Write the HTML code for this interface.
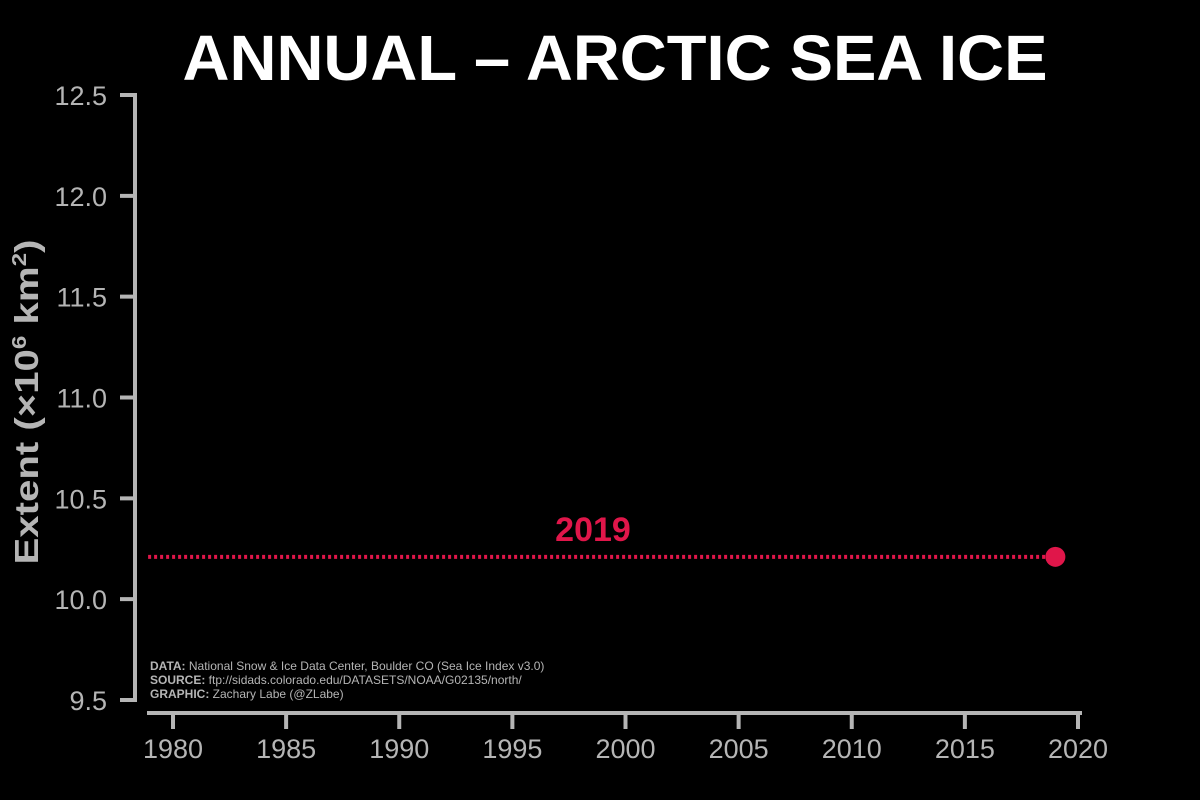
<!DOCTYPE html>
<html><head><meta charset="utf-8"><style>
html,body{margin:0;padding:0;background:#000;}
svg{display:block;font-family:"Liberation Sans",sans-serif;}
</style></head><body>
<svg id="chart" width="1200" height="800" viewBox="0 0 1200 800">
<rect width="1200" height="800" fill="#000"/>
<text x="615" y="80" fill="#fff" font-size="64" font-weight="bold" text-anchor="middle" textLength="865" lengthAdjust="spacingAndGlyphs">ANNUAL – ARCTIC SEA ICE</text>
<text transform="translate(38,402) rotate(-90)" fill="#b5b5b5" font-size="33" font-weight="bold" text-anchor="middle" textLength="325" lengthAdjust="spacingAndGlyphs">Extent (×10<tspan dy="-12" font-size="20">6</tspan><tspan dy="12"> km</tspan><tspan dy="-12" font-size="20">2</tspan><tspan dy="12">)</tspan></text>
<g id="axes"></g>
<g id="series"></g>
<g fill="#b5b5b5" font-size="12">
<text x="150" y="670"><tspan font-weight="bold">DATA:</tspan> National Snow &amp; Ice Data Center, Boulder CO (Sea Ice Index v3.0)</text>
<text x="150" y="684"><tspan font-weight="bold">SOURCE:</tspan> ftp://sidads.colorado.edu/DATASETS/NOAA/G02135/north/</text>
<text x="150" y="698"><tspan font-weight="bold">GRAPHIC:</tspan> Zachary Labe (@ZLabe)</text>
</g>
</svg>
<script>
const yTicks = [9.5, 10.0, 10.5, 11.0, 11.5, 12.0, 12.5];
const xTicks = [1980, 1985, 1990, 1995, 2000, 2005, 2010, 2015, 2020];
const years = [2019];
const extent = [10.21];
const lineStartYear = 1978.9;

const NS = "http://www.w3.org/2000/svg";
const y = v => 700 - (v - 9.5) * (605 / 3);
const x = yr => 173 + (yr - 1980) * (905 / 40);
function el(tag, attrs, parent) {
  const e = document.createElementNS(NS, tag);
  for (const k in attrs) e.setAttribute(k, attrs[k]);
  parent.appendChild(e);
  return e;
}
const axes = document.getElementById('axes');
const series = document.getElementById('series');
const gray = "#b5b5b5";
const yl = el('line', {x1: 135, y1: y(12.5) - 2, x2: 135, y2: y(9.5) + 2, stroke: gray, 'stroke-width': 4}, axes);


yTicks.forEach(v => {
  const t = el('line', {x1: 120, y1: y(v), x2: 137, y2: y(v), stroke: gray, 'stroke-width': 4}, axes);
  
  
  const l = el('text', {x: 107, y: y(v) + 10, fill: gray, 'font-size': 27, 'text-anchor': 'end'}, axes);
  l.textContent = v.toFixed(1);
  
  
});
const xl = el('line', {x1: 147, y1: 713, x2: 1082, y2: 713, stroke: gray, 'stroke-width': 4}, axes);


xTicks.forEach(v => {
  const t = el('line', {x1: x(v), y1: 711, x2: x(v), y2: 729, stroke: gray, 'stroke-width': 4}, axes);
  
  
  const l = el('text', {x: x(v), y: 758, fill: gray, 'font-size': 27, 'text-anchor': 'middle'}, axes);
  l.textContent = v;
  
  
});
years.forEach((yr, i) => {
  const ln = el('line', {x1: x(lineStartYear), y1: y(extent[i]), x2: x(yr), y2: y(extent[i]), stroke: '#e0164a', 'stroke-width': 4, 'stroke-dasharray': '3 3'}, series);
  
  
  const c = el('circle', {cx: x(yr), cy: y(extent[i]), r: 10, fill: '#e0164a'}, series);
  
  
  const t = el('text', {x: 593, y: y(extent[i]) - 16, fill: '#e0164a', 'font-size': 34, 'font-weight': 'bold', 'text-anchor': 'middle'}, series);
  t.textContent = yr;
  
  
});
</script>
</body></html>
